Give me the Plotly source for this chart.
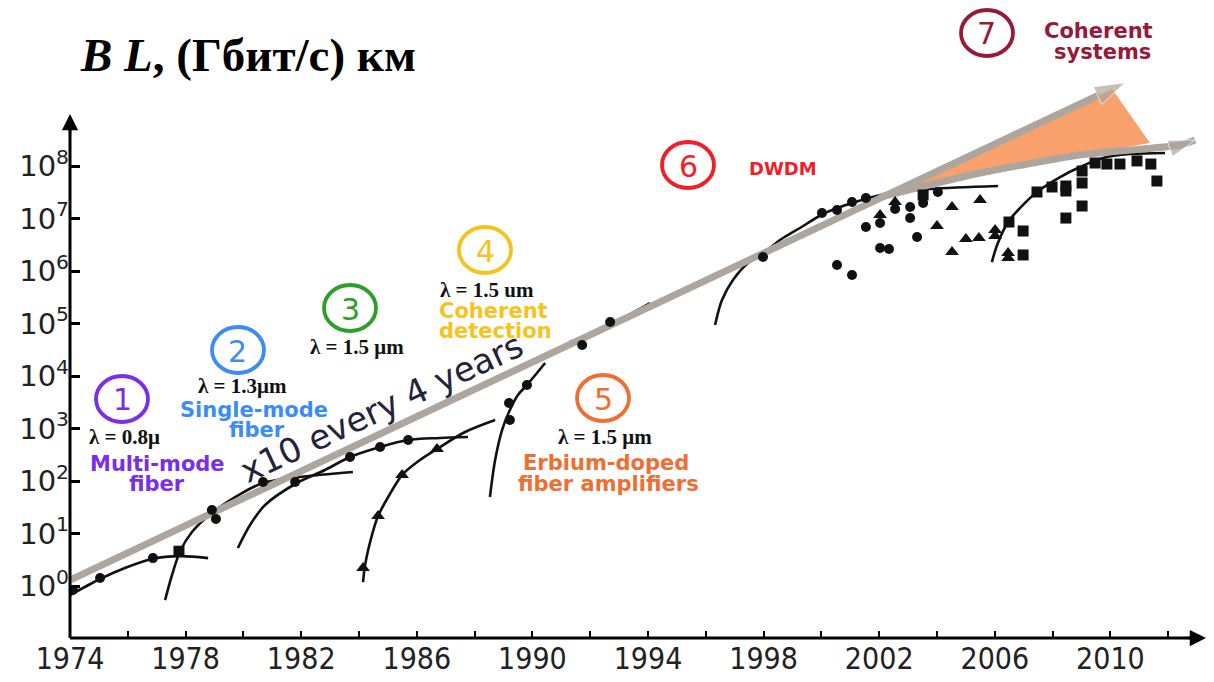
import plotly.graph_objects as go

# ---------------- data (year, BL in (Gbit/s)*km) ----------------
curve1_year = [1974.00, 1975.04, 1975.90, 1976.87, 1977.81, 1978.78]
curve1_bl = [0.67, 1.36, 2.2, 3.3, 3.7, 3.4]

curve2_year = [1977.29, 1977.53, 1977.81, 1978.22, 1978.91, 1979.95, 1980.68, 1981.96, 1983.79]
curve2_bl = [0.54, 1.62, 4.6, 10.7, 24.6, 59, 91.6, 119, 148]

curve3_year = [1979.81, 1980.23, 1980.75, 1981.85, 1982.82, 1983.69, 1984.73, 1985.70, 1986.80, 1987.77]
curve3_bl = [5.3, 14.5, 34.9, 91.6, 162, 286, 444, 604, 659, 689]

curve4_year = [1984.14, 1984.21, 1984.45, 1984.66, 1985.07, 1985.49, 1986.11, 1986.70, 1987.67, 1988.71]
curve4_bl = [1.19, 2.5, 9.4, 21.5, 56.5, 130, 251, 407, 857, 1452]

curve5_year = [1988.53, 1988.71, 1988.95, 1989.22, 1989.50, 1989.81, 1990.44]
curve5_bl = [49.6, 251, 936, 2250, 4350, 6740, 17700]

curve6_year = [1991.30, 1992.34, 1994.07]
curve6_bl = [44400, 75200, 245000]

curve7_year = [1996.32, 1996.56, 1996.94, 1997.46, 1998.05, 1998.57, 1999.26, 2000.06,
               2001.06, 2002.37, 2003.76, 2006.11]
curve7_bl = [9.36e4, 2.8e5, 6.74e5, 1.42e6, 2.3e6, 3.89e6, 6.59e6, 1.22e7,
             1.97e7, 3.06e7, 3.65e7, 4.16e7]

curve8_year = [2005.90, 2006.08, 2006.46, 2006.87, 2007.46, 2008.26, 2008.95, 2009.74, 2010.68, 2011.89]
curve8_bl = [1.48e6, 3.13e6, 8.57e6, 1.58e7, 3.2e7, 6.17e7, 9.57e7, 1.42e8, 1.69e8, 1.77e8]

circle_year = [1974.10, 1975.04, 1976.87, 1978.91, 1979.05, 1980.68, 1981.79, 1983.69, 1984.73,
               1985.70, 1989.19, 1989.22, 1989.81, 1991.72, 1992.69, 1997.98,
               2000.02, 2000.54, 2001.06, 2001.54, 2001.54, 2002.03, 2002.03, 2002.34,
               2000.54, 2001.06, 2002.55, 2003.07, 2003.07, 2003.31, 2003.52, 2004.03]
circle_bl = [0.84, 1.42, 3.4, 28, 18.9, 95.7, 95.7, 286, 444,
             604, 3060, 1452, 6740, 38900, 1.07e5, 1.85e6,
             1.27e7, 1.45e7, 2.06e7, 2.46e7, 6.89e6, 8.2e6, 2.74e6, 2.62e6,
             1.3e6, 8.39e5, 1.52e7, 1.66e7, 1.02e7, 4.44e6, 1.97e7, 3.2e7]

triangle_year = [1984.14, 1984.66, 1985.49, 1986.70, 2002.03, 2002.55, 2004.52, 2004.00,
                 2005.49, 2004.52, 2005.00, 2005.45, 2006.01, 2006.01, 2006.46, 2006.46]
triangle_bl = [2.2, 21.5, 130, 407, 1.17e7, 2.06e7, 1.66e7, 7.2e6,
               2.25e7, 2.3e6, 4.07e6, 4.25e6, 6.04e6, 4.64e6, 2.2e6, 1.77e6]

square_year = [1977.77, 2003.52, 2006.49, 2006.98, 2006.98, 2007.46, 2007.98, 2008.46, 2008.46,
               2008.46, 2009.02, 2009.02, 2009.02, 2009.47, 2009.88, 2010.33, 2010.92,
               2011.40, 2011.61]
square_bl = [4.6, 2.8e7, 8.57e6, 5.78e6, 2.02e6, 3.2e7, 3.98e7, 4.16e7, 3.34e7,
             1.02e7, 8.03e7, 4.74e7, 1.73e7, 1.14e8, 1.09e8, 1.09e8, 1.25e8,
             1.09e8, 5.18e7]

# trend "x10 every 4 years" and the coherent-systems wedge
trend_year = [1974.0, 2010.51]
trend_bl = [1.30, 3.86e9]
lower_year = [2002.03, 2005.49, 2008.95, 2012.41, 2012.93]
lower_bl = [2.57e7, 7.36e7, 1.62e8, 2.51e8, 3.13e8]
wedge_year = [2002.03, 2010.06, 2011.37, 2008.95, 2005.49, 2002.03]
wedge_bl = [2.57e7, 2.93e9, 2.74e8, 1.62e8, 7.36e7, 2.57e7]

x_tick_years = list(range(1974, 2013, 2))
y_tick_exp = list(range(0, 9))

# ---------------- layout constants ----------------
W, H = 1214, 682
ML, MR, MT, MB = 70, 4, 0, 44
PW, PH = W - ML - MR, H - MT - MB
PX_PER_YEAR = 28.9
Y0_PIX, PX_PER_DEC = 586, 52.5          # pixel row of 10^0, pixels per decade
x_range = [1974, 1974 + PW / PX_PER_YEAR]
y_range = [-(PH - Y0_PIX) / PX_PER_DEC, Y0_PIX / PX_PER_DEC]


def px(x):
    return (x - ML) / PW


def py(y):
    return (H - MB - y) / PH


GRAY = "#ADA69E"
BLACK = "#111111"

fig = go.Figure()

# wedge
fig.add_trace(go.Scatter(x=wedge_year, y=wedge_bl, mode="lines", fill="toself",
                         fillcolor="#F8A16C", line=dict(width=0, color="#F8A16C"),
                         hoverinfo="skip"))

# generation curves
for cx, cy in [(curve1_year, curve1_bl), (curve2_year, curve2_bl), (curve3_year, curve3_bl),
               (curve4_year, curve4_bl), (curve5_year, curve5_bl), (curve6_year, curve6_bl),
               (curve7_year, curve7_bl), (curve8_year, curve8_bl)]:
    fig.add_trace(go.Scatter(x=cx, y=cy, mode="lines", hoverinfo="skip",
                             line=dict(color=BLACK, width=2.6, shape="spline", smoothing=0.9)))

# gray trend arrows
fig.add_trace(go.Scatter(x=trend_year, y=trend_bl, mode="lines+markers", hoverinfo="skip",
                         line=dict(color=GRAY, width=7),
                         marker=dict(symbol="arrow", size=[0, 32], color=GRAY, angleref="previous")))
fig.add_trace(go.Scatter(x=lower_year, y=lower_bl, mode="lines+markers", hoverinfo="skip",
                         line=dict(color=GRAY, width=7, shape="spline", smoothing=0.6),
                         marker=dict(symbol="arrow", size=[0, 0, 0, 0, 28], color=GRAY,
                                     angleref="previous")))

# measured points
fig.add_trace(go.Scatter(x=circle_year, y=circle_bl, mode="markers",
                         marker=dict(symbol="circle", size=10, color=BLACK)))
fig.add_trace(go.Scatter(x=triangle_year, y=triangle_bl, mode="markers",
                         marker=dict(symbol="triangle-up", size=12, color=BLACK)))
fig.add_trace(go.Scatter(x=square_year, y=square_bl, mode="markers",
                         marker=dict(symbol="square", size=11, color=BLACK)))

shapes = []
annotations = []


def note(x, y, text, font, xanchor="center", yanchor="middle", **kw):
    annotations.append(dict(xref="paper", yref="paper", x=px(x), y=py(y), text=text,
                            showarrow=False, xanchor=xanchor, yanchor=yanchor,
                            font=font, **kw))


# axes lines
shapes.append(dict(type="line", xref="paper", yref="paper", x0=px(70), x1=px(1192),
                   y0=py(638), y1=py(638), line=dict(color="black", width=3)))
shapes.append(dict(type="line", xref="paper", yref="paper", x0=px(70), x1=px(70),
                   y0=py(638), y1=py(126), line=dict(color="black", width=3)))
annotations.append(dict(xref="paper", yref="paper", x=px(1206), y=py(638), text="",
                        showarrow=True, ax=-22, ay=0, arrowhead=2, arrowsize=1.3,
                        arrowwidth=2.5, arrowcolor="black"))
annotations.append(dict(xref="paper", yref="paper", x=px(70), y=py(114), text="",
                        showarrow=True, ax=0, ay=22, arrowhead=2, arrowsize=1.3,
                        arrowwidth=2.5, arrowcolor="black"))

# title
note(78, 55, "<b><i>B L</i>, (Гбит/с) км</b>",
     dict(family="Liberation Serif, Times New Roman, serif", size=47, color="black"),
     xanchor="left")

# trend label
note(381, 408, "x10 every 4 years",
     dict(family="DejaVu Sans, Verdana, sans-serif", size=34, color="#23233a"),
     textangle=-25)

SANS_B = "DejaVu Sans, Verdana, sans-serif"
SERIF = "Liberation Serif, Times New Roman, serif"

generations = [
    # number, circle centre, colour, lambda text/pos, label lines
    ("1", (122, 399), "#7A2DEB", ("λ = 0.8μ", (124, 437)),
     [("Multi-mode", (157, 464)), ("fiber", (157, 484))]),
    ("2", (238, 350), "#3C8CF5", ("λ = 1.3μm", (242, 386)),
     [("Single-mode", (254, 410)), ("fiber", (257, 430))]),
    ("3", (350, 308), "#2AA02A", ("λ = 1.5 μm", (357, 347)), []),
    ("4", (485, 250), "#F5C31E", ("λ = 1.5 um", (487, 290)),
     [("Coherent", (493, 311)), ("detection", (495, 331))]),
    ("5", (603, 398), "#F06E32", ("λ = 1.5 μm", (605, 437)),
     [("Erbium-doped", (606, 463)), ("fiber amplifiers", (608, 484))]),
    ("6", (688, 165), "#F01E28", None, [("DWDM", (783, 168))]),
    ("7", (987, 33), "#961937", None, [("Coherent", (1098, 31)), ("systems", (1102, 52))]),
]

for num, (cx, cy), col, lam, labels in generations:
    shapes.append(dict(type="circle", xref="paper", yref="paper",
                       x0=px(cx - 26), x1=px(cx + 26), y0=py(cy + 23), y1=py(cy - 23),
                       line=dict(color=col, width=3.8)))
    note(cx, cy + 1, num, dict(family=SANS_B, size=30, color=col))
    if lam:
        t, (lx, ly) = lam
        note(lx, ly, "<b>" + t + "</b>", dict(family=SERIF, size=21, color="#111"))
    for t, (lx, ly) in labels:
        size = 18 if t == "DWDM" else 21
        note(lx, ly, "<b>" + t + "</b>", dict(family=SANS_B, size=size, color=col))

fig.update_layout(
    width=W, height=H, margin=dict(l=ML, r=MR, t=MT, b=MB, autoexpand=False),
    plot_bgcolor="white", paper_bgcolor="white", showlegend=False, hovermode=False,
    shapes=shapes, annotations=annotations,
    xaxis=dict(range=x_range, tickvals=x_tick_years, automargin=False, fixedrange=True,
               ticktext=[str(y) if (y - 1974) % 4 == 0 else "" for y in x_tick_years],
               ticks="inside", ticklen=7, tickwidth=2, tickcolor="black",
               showgrid=False, zeroline=False, showline=False,
               tickfont=dict(family="Liberation Sans Narrow, DejaVu Sans Condensed, Arial Narrow, sans-serif",
                             size=30, color="#222")),
    yaxis=dict(type="log", range=y_range, tickvals=[10 ** k for k in y_tick_exp], automargin=False,
               fixedrange=True,
               ticktext=["10<sup>%d</sup>" % k for k in y_tick_exp],
               ticks="inside", ticklen=10, tickwidth=2.5, tickcolor="black",
               showgrid=False, zeroline=False, showline=False,
               tickfont=dict(family="DejaVu Sans, Verdana, sans-serif", size=29, color="#222")),
)

fig.write_html("out.html", config={"displayModeBar": False},
               post_script="document.body.style.margin='0px';")
